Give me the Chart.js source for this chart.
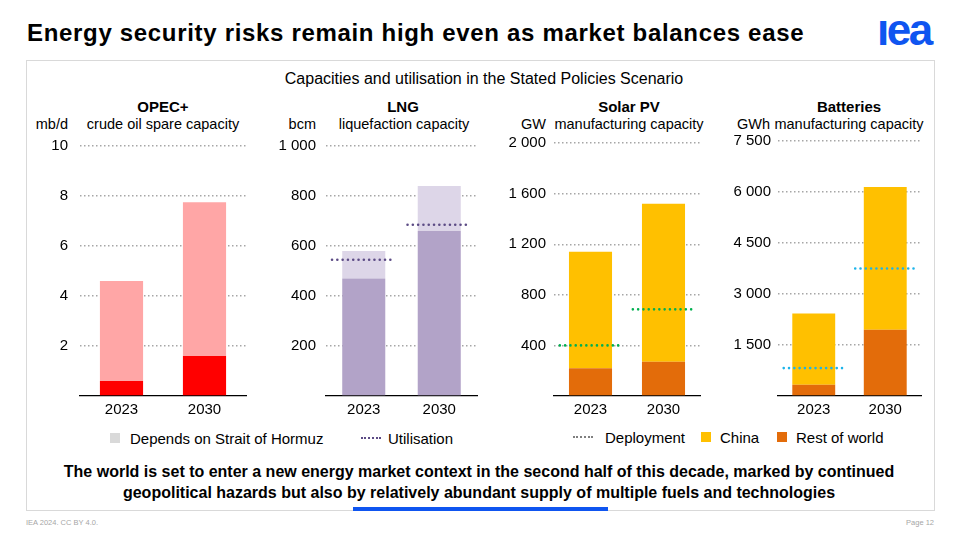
<!DOCTYPE html>
<html>
<head>
<meta charset="utf-8">
<script src="https://cdn.jsdelivr.net/npm/chart.js@4.4.1/dist/chart.umd.min.js"></script>
<style>
  body { margin: 0; width: 960px; height: 540px; background: #fff; overflow: hidden; position: relative;
         font-family: "Liberation Sans", Arial, sans-serif; color: #000; }
  .t { position: absolute; white-space: nowrap; line-height: 1; transform: translateY(-50%); }
  .c { transform: translate(-50%, -50%); }
  .r { transform: translate(-100%, -50%); }
  .p { font-size: 15px; }
  .s { font-size: 14.5px; }
  .b { font-weight: bold; }
  .sq { position: absolute; width: 10px; height: 10px; }
  .dots { position: absolute; height: 0; border-top-style: dotted; border-top-width: 2px; }
  canvas { position: absolute; }
</style>
</head>
<body>
<!-- Header -->
<div class="t b" style="left:27px;top:33px;font-size:24px;letter-spacing:0.68px">Energy security risks remain high even as market balances ease</div>
<div class="t b" style="left:877px;top:30px;font-size:44px;letter-spacing:-2.5px;color:#0F55F0">ıea</div>

<!-- Frame -->
<div style="position:absolute;left:26px;top:60px;width:909px;height:451px;box-sizing:border-box;border:1px solid #D9D9D9"></div>
<div style="position:absolute;left:353px;top:507px;width:255px;height:4px;background:#0F55F0"></div>
<div class="t c" style="left:484px;top:79px;font-size:16px">Capacities and utilisation in the Stated Policies Scenario</div>

<!-- Panel headings -->
<div class="t c p b" style="left:163px;top:106px">OPEC+</div>
<div class="t r s" style="left:68px;top:124px">mb/d</div>
<div class="t c s" style="left:163px;top:124px">crude oil spare capacity</div>

<div class="t c p b" style="left:403px;top:106px">LNG</div>
<div class="t r s" style="left:316px;top:124px">bcm</div>
<div class="t c s" style="left:404px;top:124px">liquefaction capacity</div>

<div class="t c p b" style="left:629px;top:106px">Solar PV</div>
<div class="t r s" style="left:546px;top:124px">GW</div>
<div class="t c s" style="left:629px;top:124px">manufacturing capacity</div>

<div class="t c p b" style="left:849px;top:106px">Batteries</div>
<div class="t r s" style="left:770px;top:124px">GWh</div>
<div class="t c s" style="left:849px;top:124px">manufacturing capacity</div>

<canvas id="opec"></canvas>
<canvas id="lng"></canvas>
<canvas id="solar"></canvas>
<canvas id="batt"></canvas>

<!-- Legends -->
<div class="sq" style="left:110px;top:433px;background:#D9D9D9"></div>
<div class="t p" style="left:130px;top:438px">Depends on Strait of Hormuz</div>
<div class="dots" style="left:361px;top:437px;width:20px;border-top-color:#5C4B85"></div>
<div class="t p" style="left:388px;top:438px">Utilisation</div>

<div class="dots" style="left:573px;top:436px;width:20px;border-top-color:#7F7F7F"></div>
<div class="t p" style="left:605px;top:437px">Deployment</div>
<div class="sq" style="left:701px;top:432px;background:#FFC000"></div>
<div class="t p" style="left:720px;top:437px">China</div>
<div class="sq" style="left:777px;top:432px;background:#E36C0A"></div>
<div class="t p" style="left:796px;top:437px">Rest of world</div>

<!-- Takeaway -->
<div class="t c b" style="left:479px;top:472px;font-size:16px">The world is set to enter a new energy market context in the second half of this decade, marked by continued</div>
<div class="t c b" style="left:479px;top:493px;font-size:16px">geopolitical hazards but also by relatively abundant supply of multiple fuels and technologies</div>

<!-- Footer -->
<div class="t" style="left:26px;top:523px;font-size:7.5px;color:#A6A6A6">IEA 2024. CC BY 4.0.</div>
<div class="t r" style="left:934px;top:523px;font-size:7.5px;color:#A6A6A6">Page 12</div>

<script>
// Categories
const years = ['2023', '2030'];

// OPEC+ crude oil spare capacity (mb/d)
const opecOther = [0.6, 1.6];
const opecHormuz = [4.0, 6.15];
const opecTicks = [0, 2, 4, 6, 8, 10];

// LNG liquefaction capacity (bcm)
const lngOther = [470, 660];
const lngHormuz = [110, 180];
const lngUtilisation = [545, 685];
const lngTicks = [0, 200, 400, 600, 800, 1000];

// Solar PV manufacturing capacity (GW)
const solarRest = [220, 270];
const solarChina = [920, 1250];
const solarDeployment = [400, 685];
const solarTicks = [0, 400, 800, 1200, 1600, 2000];

// Batteries manufacturing capacity (GWh)
const battRest = [330, 1950];
const battChina = [2100, 4200];
const battDeployment = [820, 3750];
const battTicks = [0, 1500, 3000, 4500, 6000, 7500];

const FONT = 'Liberation Sans';

// "1000" -> "1 000", zero label hidden
const fmt = v => v === 0 ? '' : String(v).replace(/\B(?=(\d{3})+(?!\d))/g, ' ');

// Turn one value per category into a short horizontal segment around the bar
function segments(values, half) {
    const pts = [];
    values.forEach((v, i) => {
        if (i > 0) pts.push({ x: i - 0.5, y: null });
        pts.push({ x: i - half, y: v }, { x: i + half, y: v });
    });
    return pts;
}

// Each panel is its own chart; the top of the plot sits (half a label + tick padding) below the canvas top
function panel(id, box, bars, marker, ticks) {
    const canvas = document.getElementById(id);
    canvas.width = box.width;
    canvas.height = 420 - box.top;
    canvas.style.left = box.left + 'px';
    canvas.style.top = box.top + 'px';

    const datasets = bars.map(b => ({
        type: 'bar',
        data: b.data,
        backgroundColor: b.color,
        barPercentage: box.barPct,
        categoryPercentage: 1,
        grouped: false,
        order: 1
    }));
    if (marker) {
        datasets.push({
            type: 'line',
            data: segments(marker.data, 0.42),
            xAxisID: 'x2',
            stack: 'marker',
            borderColor: marker.color,
            borderWidth: 2.6,
            borderDash: [0, 5.3],
            borderCapStyle: 'round',
            pointRadius: 0,
            spanGaps: false,
            order: 0
        });
    }

    return new Chart(canvas, {
        data: { labels: years, datasets },
        options: {
            responsive: false,
            animation: false,
            events: [],
            layout: { padding: { top: 0, right: 2, left: 0, bottom: 0 } },
            plugins: { legend: { display: false }, tooltip: { enabled: false } },
            scales: {
                x: {
                    stacked: true,
                    grid: { display: false, drawTicks: false },
                    border: { display: true, color: '#000', width: 1.3 },
                    ticks: { color: '#000', padding: 5, font: { family: FONT, size: 15 } },
                    afterFit: s => { s.height = 24; }
                },
                x2: { type: 'linear', display: false, min: -0.5, max: 1.5 },
                y: {
                    stacked: true,
                    min: 0,
                    max: ticks[ticks.length - 1],
                    afterBuildTicks: s => { s.ticks = ticks.map(v => ({ value: v })); },
                    grid: {
                        drawTicks: false,
                        lineWidth: 1.4,
                        color: c => c.tick && c.tick.value === 0 ? 'rgba(0,0,0,0)' : '#A6A6A6'
                    },
                    border: { display: false, dash: [1.5, 2.5] },
                    ticks: { color: '#000', padding: box.tickPad, font: { family: FONT, size: 15 }, callback: fmt },
                    afterFit: s => { s.width = 52; }
                }
            }
        }
    });
}

panel('opec', { left: 28, top: 125, width: 220, tickPad: 12, barPct: 0.52 },
    [{ data: opecOther, color: '#FF0000' }, { data: opecHormuz, color: '#FFA6A6' }],
    null, opecTicks);

panel('lng', { left: 274, top: 127, width: 205, tickPad: 10, barPct: 0.57 },
    [{ data: lngOther, color: '#B2A3C8' }, { data: lngHormuz, color: '#DDD6E8' }],
    { data: lngUtilisation, color: '#5C4B85' }, lngTicks);

panel('solar', { left: 502, top: 126, width: 200, tickPad: 8, barPct: 0.59 },
    [{ data: solarRest, color: '#E36C0A' }, { data: solarChina, color: '#FFC000' }],
    { data: solarDeployment, color: '#00B050' }, solarTicks);

panel('batt', { left: 726, top: 125, width: 197, tickPad: 7, barPct: 0.6 },
    [{ data: battRest, color: '#E36C0A' }, { data: battChina, color: '#FFC000' }],
    { data: battDeployment, color: '#1CB4EA' }, battTicks);
</script>
</body>
</html>
